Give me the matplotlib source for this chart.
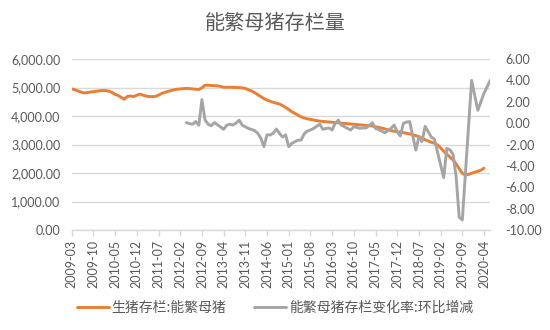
import numpy as np
import pandas as pd
import matplotlib
matplotlib.use("Agg")
import matplotlib.pyplot as plt

plt.rcParams['font.family'] = ['Lato', 'Noto Sans CJK SC', 'DejaVu Sans']

# Monthly categories 2009-03 .. 2020-06
months = list(pd.period_range('2009-03', '2020-06', freq='M').strftime('%Y-%m'))

# 生猪存栏:能繁母猪 (万头), 2009-03 .. 2020-04
sow_stock = [
    4950, 4920, 4880, 4840, 4810, 4820, 4840, 4855, 4870, 4885,
    4895, 4890, 4870, 4830, 4760, 4720, 4650, 4590, 4690, 4700,
    4680, 4730, 4770, 4730, 4700, 4680, 4680, 4690, 4730, 4790,
    4830, 4860, 4890, 4920, 4940, 4950, 4960, 4970, 4960, 4950,
    4940, 4930, 4990, 5080, 5080, 5070, 5065, 5060, 5040, 5010,
    5010, 5010, 5005, 5000, 4995, 4985, 4970, 4920, 4880, 4820,
    4750, 4680, 4610, 4560, 4520, 4480, 4450, 4420, 4370, 4300,
    4230, 4150, 4090, 4030, 3970, 3930, 3900, 3880, 3860, 3840,
    3820, 3810, 3800, 3790, 3780, 3770, 3760, 3750, 3740, 3730,
    3720, 3710, 3700, 3690, 3680, 3670, 3665, 3645, 3625, 3600,
    3575, 3550, 3520, 3490, 3465, 3445, 3430, 3415, 3395, 3370,
    3340, 3310, 3280, 3220, 3170, 3120, 3080, 3040, 2990, 2880,
    2760, 2660, 2560, 2460, 2320, 2150, 1990, 1930, 1950, 1990,
    2030, 2060, 2100, 2170, np.nan, np.nan,
]

# 能繁母猪存栏变化率:环比增减 (%), starts 2012-04
sow_change = [np.nan] * 37 + [
    0.05, -0.05, -0.10, 0.15, -0.20, 2.20, 0.30, -0.10, -0.25, 0.05,
    -0.15, -0.35, -0.58, -0.20, -0.10, -0.18, 0.00, 0.28, -0.18, -0.35,
    -0.49, -0.60, -0.70, -0.95, -1.40, -2.20, -1.10, -1.10, -0.95, -0.55,
    -0.95, -1.30, -1.10, -2.20, -1.90, -1.74, -1.60, -1.58, -1.00, -0.75,
    -0.64, -0.50, -0.30, -0.10, -0.58, -0.50, -0.45, -0.64, 0.00, 0.29,
    -0.20, -0.33, -0.50, -0.64, -0.33, -0.40, -0.49, -0.45, -0.45, -0.20,
    0.04, -0.50, -0.60, -0.75, -0.90, -0.70, -0.50, -0.18, -0.80, -1.20,
    -0.02, 0.10, 0.15, -1.20, -2.52, -1.27, -1.74, -0.30, -0.80, -1.30,
    -1.50, -2.70, -3.90, -5.10, -2.36, -2.50, -2.90, -5.00, -8.80, -9.06,
    -4.70, -0.40, 4.00, 2.60, 1.20, 2.00, 2.80, 3.40, 4.00,
]

left_ticks = [0, 1000, 2000, 3000, 4000, 5000, 6000]
right_ticks = [-10, -8, -6, -4, -2, 0, 2, 4, 6]

title = '能繁母猪存栏量'
label_stock = '生猪存栏:能繁母猪'
label_change = '能繁母猪存栏变化率:环比增减'

ORANGE = '#ED7D31'
GRAY = '#A5A5A5'
TEXT = '#595959'
GRID = '#D9D9D9'

fig = plt.figure(figsize=(5.5, 3.3), dpi=100)
ax = fig.add_axes([0.1304, 0.303, 0.8913 - 0.1304, 0.8212 - 0.303])
ax2 = ax.twinx()

x = np.arange(len(months))
l1, = ax.plot(x, sow_stock, color=ORANGE, lw=2.1, solid_capstyle='round',
              solid_joinstyle='round', label=label_stock)
l2, = ax2.plot(x, sow_change, color=GRAY, lw=2.1, solid_capstyle='round',
               solid_joinstyle='round', label=label_change)

ax.set_xlim(0, len(months) - 1)
ax.set_ylim(0, 6000)
ax2.set_ylim(-10, 6)
ax.set_yticks(left_ticks)
ax.set_yticklabels([f'{v:,.2f}' for v in left_ticks])
ax2.set_yticks(right_ticks)
ax2.set_yticklabels([f'{v:.2f}' for v in right_ticks])

tick_idx = list(range(0, len(months), 7))
ax.set_xticks(tick_idx)
ax.set_xticklabels([months[i] for i in tick_idx], rotation=90)

ax.grid(axis='y', color=GRID, lw=1)
ax.set_axisbelow(True)
for a in (ax, ax2):
    for s in ('top', 'left', 'right'):
        a.spines[s].set_visible(False)
    a.spines['bottom'].set_visible(False)
ax.spines['bottom'].set_visible(True)
ax.spines['bottom'].set_color(GRID)
ax.spines['bottom'].set_linewidth(1)

ax.tick_params(axis='x', colors=GRID, length=4, width=1, pad=3,
               labelcolor=TEXT, labelsize=9)
ax.tick_params(axis='y', length=0, pad=8, labelcolor=TEXT, labelsize=9)
ax2.tick_params(axis='y', length=0, pad=11, labelcolor=TEXT, labelsize=9)

fig.text(0.5, 0.93, title, ha='center', va='center', fontsize=14.5,
         color=TEXT, family=['Noto Sans CJK SC'])

leg = fig.legend([l1, l2], [label_stock, label_change], loc='center',
                 bbox_to_anchor=(0.5, 0.068), ncol=2, frameon=False,
                 handlelength=2.3, columnspacing=2.0, handletextpad=0.2,
                 prop={'family': ['Noto Sans CJK SC'], 'size': 10})
for t in leg.get_texts():
    t.set_color(TEXT)

fig.savefig('out.png', dpi=100)
